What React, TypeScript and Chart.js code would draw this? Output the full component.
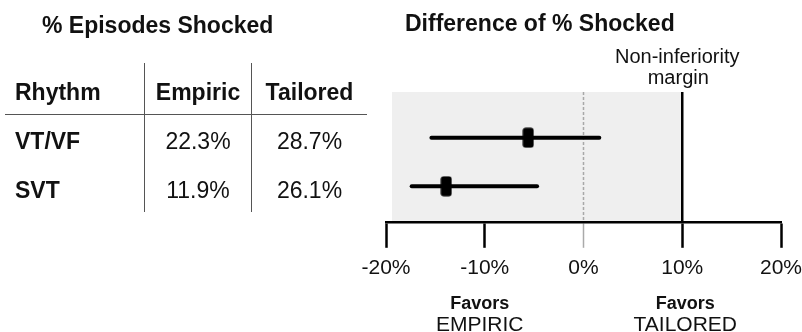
import React, { useEffect, useRef } from 'react';
import { Chart, registerables } from 'chart.js';

Chart.register(...registerables);

// ---------- data ----------
const rhythms = ['VT/VF', 'SVT'];
const empiricShocked = ['22.3%', '11.9%'];
const tailoredShocked = ['28.7%', '26.1%'];
const columnHeaders = ['Rhythm', 'Empiric', 'Tailored'];
const diffEstimate = [-5.6, -13.9];
const ciLower = [-15.4, -17.4];
const ciUpper = [1.6, -4.7];
const rowPos = [1, 2];
const xTickValues = [-20, -10, 0, 10, 20];
const nonInferiorityMargin = 10;
const leftTitle = '% Episodes Shocked';
const rightTitle = 'Difference of % Shocked';
const marginLabel = ['Non-inferiority', 'margin'];
const favorsLabels = [
  { top: 'Favors', bottom: 'EMPIRIC', at: -10 },
  { top: 'Favors', bottom: 'TAILORED', at: 10 },
];

const FONT = '"Liberation Sans", Arial, Helvetica, sans-serif';

function makeMarker(): HTMLCanvasElement {
  const c = document.createElement('canvas');
  c.width = 12;
  c.height = 21;
  const g = c.getContext('2d')!;
  g.fillStyle = '#000';
  g.beginPath();
  if ((g as any).roundRect) (g as any).roundRect(0.5, 0.5, 11, 20, 3);
  else g.rect(0.5, 0.5, 11, 20);
  g.fill();
  return c;
}

const overlayPlugin = {
  id: 'overlay',
  beforeDraw(chart: any) {
    const { ctx, chartArea: a, scales } = chart;
    const x = scales.x;
    ctx.save();
    ctx.fillStyle = '#efefef';
    const gl = a.left + 6;
    const gr = x.getPixelForValue(nonInferiorityMargin);
    ctx.fillRect(gl, a.top, gr - gl, a.bottom - a.top);
    ctx.restore();
  },
  beforeDatasetsDraw(chart: any) {
    const { ctx, chartArea: a, scales } = chart;
    const x = scales.x;
    ctx.save();
    const x0 = x.getPixelForValue(0);
    ctx.strokeStyle = '#a8a8a8';
    ctx.lineWidth = 1.5;
    ctx.setLineDash([3, 2]);
    ctx.beginPath();
    ctx.moveTo(x0, a.top);
    ctx.lineTo(x0, a.bottom);
    ctx.stroke();
    ctx.setLineDash([]);
    const xm = x.getPixelForValue(nonInferiorityMargin);
    ctx.strokeStyle = '#000';
    ctx.lineWidth = 2.5;
    ctx.beginPath();
    ctx.moveTo(xm, a.top);
    ctx.lineTo(xm, a.bottom);
    ctx.stroke();
    ctx.restore();
  },
  afterDraw(chart: any) {
    const { ctx, scales } = chart;
    const x = scales.x;
    const y = scales.y;
    ctx.save();
    ctx.fillStyle = '#111';
    ctx.textBaseline = 'alphabetic';

    // titles
    ctx.font = `bold 23px ${FONT}`;
    ctx.textAlign = 'left';
    ctx.fillText(leftTitle, 42, 32.5);
    ctx.fillText(rightTitle, 405, 30.5);

    // non-inferiority label
    ctx.font = `20px ${FONT}`;
    ctx.textAlign = 'center';
    const xm = x.getPixelForValue(nonInferiorityMargin);
    ctx.fillText(marginLabel[0], xm - 5, 63);
    ctx.fillText(marginLabel[1], xm - 4, 84);

    // table
    const colX = [15, 198, 309.5];
    ctx.font = `bold 23px ${FONT}`;
    ctx.textAlign = 'left';
    ctx.fillText(columnHeaders[0], colX[0], 99.5);
    ctx.textAlign = 'center';
    ctx.fillText(columnHeaders[1], colX[1], 99.5);
    ctx.fillText(columnHeaders[2], colX[2], 99.5);

    rhythms.forEach((r, i) => {
      const base = y.getPixelForValue(rowPos[i]) + 11.5;
      ctx.font = `bold 23px ${FONT}`;
      ctx.textAlign = 'left';
      ctx.fillText(r, colX[0], base);
      ctx.font = `23px ${FONT}`;
      ctx.textAlign = 'center';
      ctx.fillText(empiricShocked[i], colX[1], base);
      ctx.fillText(tailoredShocked[i], colX[2], base);
    });

    ctx.strokeStyle = '#555';
    ctx.lineWidth = 1;
    ctx.beginPath();
    ctx.moveTo(5, 114.5);
    ctx.lineTo(367, 114.5);
    ctx.moveTo(144.5, 63);
    ctx.lineTo(144.5, 212);
    ctx.moveTo(251.5, 63);
    ctx.lineTo(251.5, 212);
    ctx.stroke();

    // favors labels
    favorsLabels.forEach((f) => {
      const cx = x.getPixelForValue(f.at) + (f.at < 0 ? -5 : 3);
      ctx.textAlign = 'center';
      ctx.font = `bold 18px ${FONT}`;
      ctx.fillText(f.top, cx, 309);
      ctx.font = `21px ${FONT}`;
      ctx.fillText(f.bottom, cx, 331);
    });
    ctx.restore();
  },
};

export default function App() {
  const canvasRef = useRef<HTMLCanvasElement | null>(null);

  useEffect(() => {
    if (!canvasRef.current) return;
    const marker = makeMarker();
    const ciDatasets = rhythms.map((r, i) => ({
      type: 'line' as const,
      label: `${r} CI`,
      data: [
        { x: ciLower[i], y: rowPos[i] },
        { x: ciUpper[i], y: rowPos[i] },
      ],
      borderColor: '#000',
      borderWidth: 4,
      pointRadius: 0,
      borderCapStyle: 'round' as const,
    }));
    const pointDataset = {
      type: 'scatter' as const,
      label: 'Difference',
      data: rhythms.map((_, i) => ({ x: diffEstimate[i], y: rowPos[i] })),
      pointStyle: marker,
      pointRadius: 10,
      backgroundColor: '#000',
      borderColor: '#000',
    };
    const chart = new Chart(canvasRef.current, {
      type: 'scatter',
      data: { datasets: [...ciDatasets, pointDataset] as any },
      options: {
        animation: false,
        responsive: true,
        maintainAspectRatio: false,
        layout: { padding: { left: 386, right: 49, top: 92, bottom: 43 } },
        plugins: { legend: { display: false }, tooltip: { enabled: false } },
        scales: {
          x: {
            type: 'linear',
            min: -20,
            max: 20,
            afterBuildTicks: (s: any) => {
              s.ticks = xTickValues.map((v) => ({ value: v }));
            },
            ticks: {
              autoSkip: false,
              maxRotation: 0,
              padding: 8,
              color: '#111',
              font: { family: FONT, size: 21 },
              callback: (v: any) => `${v}%`,
            },
            grid: {
              drawOnChartArea: false,
              drawTicks: true,
              tickLength: 26,
              tickColor: (c: any) => (c.tick && c.tick.value === 0 ? '#aaa' : '#000'),
              tickWidth: (c: any) => (c.tick && c.tick.value === 0 ? 1.5 : 2.5),
            },
            border: { display: true, color: '#000', width: 2.5 },
          },
          y: {
            type: 'linear',
            display: false,
            reverse: true,
            min: 0.06,
            max: 2.73,
          },
        },
      },
      plugins: [overlayPlugin],
    } as any);
    return () => chart.destroy();
  }, []);

  return (
    <div style={{ position: 'absolute', left: 0, top: 0, width: 802, height: 332, overflow: 'hidden', background: '#fff' }}>
      <div style={{ position: 'relative', width: 830, height: 332 }}>
        <canvas ref={canvasRef} style={{ display: 'block' }} />
      </div>
    </div>
  );
}
